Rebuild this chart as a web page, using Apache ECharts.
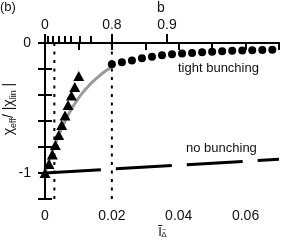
<!DOCTYPE html>
<html><head><meta charset="utf-8">
<script src="https://cdn.jsdelivr.net/npm/echarts@6/dist/echarts.min.js"></script>
<style>html,body{margin:0;padding:0;background:#fff}#c{width:292px;height:245px}</style>
</head><body><div id="c"></div>
<script>
// ---- data ----
const triX = [0, 0.0012, 0.0022, 0.0031, 0.0041, 0.005, 0.006, 0.0069, 0.0079, 0.0089, 0.0101];
const triY = [-1, -0.931, -0.858, -0.785, -0.708, -0.631, -0.558, -0.477, -0.404, -0.338, -0.254];
const dotX = [0.02, 0.023, 0.026, 0.029, 0.032, 0.035, 0.038, 0.041, 0.044, 0.047, 0.05, 0.053, 0.056, 0.059, 0.062, 0.065, 0.068];
const dotY = [-0.164, -0.148, -0.134, -0.117, -0.105, -0.095, -0.087, -0.081, -0.076, -0.071, -0.067, -0.063, -0.06, -0.057, -0.055, -0.053, -0.051];
const grayX = [0, 0.002, 0.004, 0.006, 0.008, 0.010, 0.012, 0.014, 0.016, 0.018, 0.020];
const grayY = [-1, -0.845, -0.715, -0.6, -0.505, -0.425, -0.36, -0.305, -0.258, -0.218, -0.185];
const noBunchX = [0, 0.07];
const noBunchY = [-1, -0.895];
const guideX = [0.0028, 0.02];
const guideY = [-1.2, 0];
const xLabelValues = [0, 0.02, 0.04, 0.06];
const xLabelTexts = ['0', '0.02', '0.04', '0.06'];
const yLabelValues = [0, -1];
const yLabelTexts = ['0', '-1'];
const bMinorX = [0, 0.0008, 0.0023, 0.004, 0.0058, 0.0077, 0.0105, 0.0138, 0.02, 0.0365];
const bMajorX = [0, 0.02, 0.0365];
const bMajorLabels = ['0', '0.8', '0.9'];

const zip = (a, b) => a.map((v, i) => [v, b[i]]);
const FONT = 'Liberation Sans';
const axisLine = { show: true, lineStyle: { color: '#000', width: 2 } };

const guideSeries = guideX.map(x => ({
  type: 'line', data: guideY.map(y => [x, y]), showSymbol: false, symbol: 'none', silent: true,
  lineStyle: { color: '#000', width: 2, type: [3, 5.5] }, z: 1
}));

const chart = echarts.init(document.getElementById('c'), null, { renderer: 'canvas' });
chart.setOption({
  animation: false,
  backgroundColor: '#fff',
  textStyle: { fontFamily: FONT },
  grid: { left: 45, right: 13, top: 43, bottom: 46, containLabel: false },
  xAxis: [
    {
      type: 'value', position: 'bottom', min: 0, max: 0.07, interval: 0.01,
      axisLine, splitLine: { show: false },
      axisTick: { show: true, inside: false, length: 7, lineStyle: { color: '#000', width: 2 } },
      axisLabel: {
        customValues: xLabelValues, margin: 10, color: '#111', fontSize: 14, fontFamily: FONT,
        formatter: v => xLabelTexts[xLabelValues.findIndex(t => Math.abs(t - v) < 1e-9)] || ''
      }
    },
    {
      type: 'value', position: 'top', min: 0, max: 0.07,
      axisLine, splitLine: { show: false },
      axisTick: { show: true, customValues: bMinorX, length: 7, lineStyle: { color: '#000', width: 2 } },
      axisLabel: { show: false }
    },
    {
      type: 'value', position: 'top', min: 0, max: 0.07,
      axisLine: { show: false }, splitLine: { show: false },
      axisTick: { show: true, customValues: bMajorX, length: 9, lineStyle: { color: '#000', width: 2 } },
      axisLabel: {
        customValues: bMajorX, margin: 11, color: '#111', fontSize: 14, fontFamily: FONT,
        formatter: v => bMajorLabels[bMajorX.findIndex(t => Math.abs(t - v) < 1e-9)] || ''
      }
    }
  ],
  yAxis: [
    {
      type: 'value', position: 'left', min: -1.2, max: 0, interval: 0.2,
      axisLine, splitLine: { show: false },
      axisTick: { show: true, length: 7, lineStyle: { color: '#000', width: 2 } },
      axisLabel: {
        customValues: yLabelValues, margin: 14, color: '#111', fontSize: 14, fontFamily: FONT,
        formatter: v => yLabelTexts[yLabelValues.findIndex(t => Math.abs(t - v) < 1e-9)] || ''
      }
    },
    {
      type: 'value', position: 'right', min: -1.2, max: 0, interval: 0.2,
      axisLine, splitLine: { show: false },
      axisTick: { show: true, length: 7, lineStyle: { color: '#000', width: 2 } },
      axisLabel: { show: false }
    }
  ],
  series: guideSeries.concat([
    {
      type: 'line', data: zip(noBunchX, noBunchY), showSymbol: false, symbol: 'none',
      lineStyle: { color: '#000', width: 3, type: [56, 15] }, z: 2
    },
    {
      type: 'line', data: zip(grayX, grayY), smooth: true, showSymbol: false, symbol: 'none',
      lineStyle: { color: '#9a9a9a', width: 3 }, z: 3
    },
    {
      type: 'scatter', data: zip(triX, triY), symbol: 'triangle', symbolSize: [11, 10],
      itemStyle: { color: '#000', opacity: 1 }, clip: false, z: 4
    },
    {
      type: 'scatter', data: zip(dotX, dotY), symbol: 'circle', symbolSize: 8,
      itemStyle: { color: '#000', opacity: 1 }, clip: false, z: 5
    }
  ]),
  graphic: [
    { type: 'text', left: 0, top: 1, style: { text: '(b)', font: '13px "Liberation Sans"', fill: '#111' } },
    { type: 'text', x: 161, y: 8, style: { text: 'b', font: '14px "Liberation Sans"', fill: '#111', align: 'center', verticalAlign: 'middle' } },
    { type: 'text', x: 178, y: 68, style: { text: 'tight bunching', font: '13px "Liberation Sans"', fill: '#111', align: 'left', verticalAlign: 'middle' } },
    { type: 'text', x: 186, y: 148, style: { text: 'no bunching', font: '13px "Liberation Sans"', fill: '#111', align: 'left', verticalAlign: 'middle' } },
    {
      type: 'text', x: 9, y: 109, rotation: Math.PI / 2,
      style: {
        text: '{m|χ}{s|eff}{m|/ |χ}{s|lin}{m| |}', align: 'center', verticalAlign: 'middle', fill: '#111',
        rich: {
          m: { fontSize: 14, fontFamily: FONT, lineHeight: 18, verticalAlign: 'middle', fill: '#111' },
          s: { fontSize: 9, fontFamily: FONT, lineHeight: 18, verticalAlign: 'bottom', fill: '#111' }
        }
      }
    },
    { type: 'text', x: 160, y: 232, style: { text: 'Ĩ', font: '13px "Liberation Sans"', fill: '#111', align: 'center', verticalAlign: 'middle' } },
    { type: 'text', x: 164, y: 235, style: { text: 'Δ', font: '8px "Liberation Sans"', fill: '#111', align: 'center', verticalAlign: 'middle' } },
    { type: 'text', x: 164, y: 230, style: { text: '~', font: '7px "Liberation Sans"', fill: '#111', align: 'center', verticalAlign: 'middle' } }
  ]
});
</script></body></html>
